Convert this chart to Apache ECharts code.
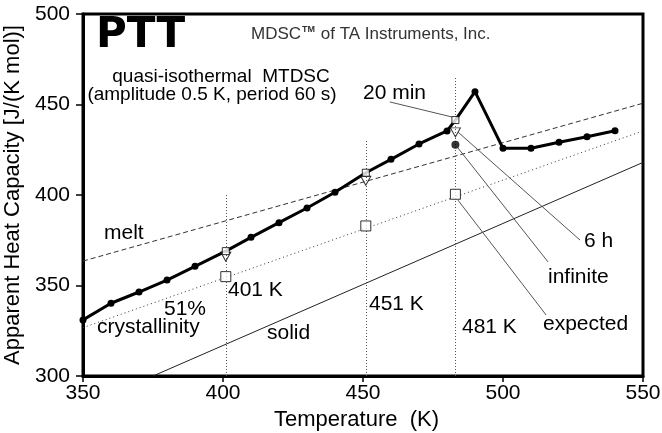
<!DOCTYPE html>
<html>
<head>
<meta charset="utf-8">
<script src="https://cdn.jsdelivr.net/npm/echarts@6/dist/echarts.min.js"></script>
<style>
html,body{margin:0;padding:0;background:#fff;}
#c{width:662px;height:433px;}
</style>
</head>
<body>
<div id="c"></div>
<script>
// ---- data ----
const tempMain = [350, 360, 370, 380, 390, 401, 410, 420, 430, 440, 451, 460, 470, 480, 483, 490, 500, 510, 520, 530, 540];
const cpMain   = [331.0, 340.2, 346.4, 353.0, 360.6, 369.0, 376.6, 384.7, 392.8, 401.5, 412.3, 419.7, 428.2, 435.4, 441.4, 457.1, 425.8, 425.8, 429.1, 432.2, 435.5];
const qiTemps    = [401, 451, 483];
const cp20min    = [369.0, 412.3, 441.4];
const cp6h       = [365.9, 407.9, 434.6];
const cpInfinite = [null, null, 427.8];
const cpExpected = [354.9, 382.9, 400.4];
const meltT  = [350, 550];
const meltCp = [363.5, 450.7];
const crystT  = [350, 550];
const crystCp = [326.7, 435.4];
const solidT  = [375, 550];
const solidCp = [300, 418];
const vlineTop = [401, 430, 465];   // top of dotted verticals at qiTemps
const xTicks = [350, 400, 450, 500, 550];
const yTicks = [300, 350, 400, 450, 500];

const pair = (xs, ys) => xs.map((x, i) => [x, ys[i]]);

const chart = echarts.init(document.getElementById('c'), null, {renderer: 'canvas'});
const F = '"Liberation Sans", Arial, sans-serif';

const leaders = [
  [[459.6, 451.4], [481.8, 443.1]],
  [[483.9, 434.8], [527.5, 375.1]],
  [[483.9, 426.0], [516.1, 363.0]],
  [[483.9, 397.2], [515.4, 333.7]]
];

function txt(text, x, y, size) {
  return {
    type: 'text', x: x, y: y, silent: true,
    style: { text: text, fontFamily: F, fontSize: size, fill: '#000', textAlign: 'left', textVerticalAlign: 'middle' }
  };
}

const option = {
  animation: false,
  backgroundColor: '#fff',
  grid: { left: 83, right: 19, top: 14, bottom: 57, show: true, borderColor: '#000', borderWidth: 3,
          containLabel: false, outerBoundsMode: 'none' },
  xAxis: {
    type: 'value', min: xTicks[0], max: xTicks[xTicks.length - 1], interval: 50,
    name: 'Temperature  (K)', nameLocation: 'middle', nameGap: 24,
    nameTextStyle: { fontFamily: F, fontSize: 22, color: '#000', padding: [0, 13, 0, 0] },
    axisLine: { lineStyle: { color: '#000', width: 3 } },
    axisTick: { length: 6, lineStyle: { color: '#000', width: 1.5 } },
    axisLabel: { fontFamily: F, fontSize: 21, color: '#000', margin: 7 },
    splitLine: { show: false }
  },
  yAxis: {
    type: 'value', min: yTicks[0], max: yTicks[yTicks.length - 1], interval: 50,
    name: 'Apparent Heat Capacity [J/(K mol)]', nameLocation: 'middle', nameGap: 53,
    nameTextStyle: { fontFamily: F, fontSize: 22, color: '#000' },
    axisLine: { lineStyle: { color: '#000', width: 3 } },
    axisTick: { length: 7, lineStyle: { color: '#000', width: 1.5 } },
    axisLabel: { fontFamily: F, fontSize: 21, color: '#000', margin: 13 },
    splitLine: { show: false }
  },
  series: [
    { type: 'line', name: 'melt', data: pair(meltT, meltCp), symbol: 'none', silent: true,
      lineStyle: { color: '#333', width: 1, type: [5, 3] },
      markLine: { silent: true, symbol: 'none', label: { show: false },
        lineStyle: { color: '#555', width: 1, type: 'solid' },
        data: leaders.map(l => [{ coord: l[0] }, { coord: l[1] }]) } },
    { type: 'line', name: 'crystallinity', data: pair(crystT, crystCp), symbol: 'none', silent: true,
      lineStyle: { color: '#333', width: 1, type: [1, 3] },
      markLine: { silent: true, symbol: 'none', label: { show: false },
        lineStyle: { color: '#555', width: 1, type: [1, 2] },
        data: qiTemps.map((t, i) => [{ coord: [t, yTicks[0]] }, { coord: [t, vlineTop[i]] }]) } },
    { type: 'line', name: 'solid', data: pair(solidT, solidCp), symbol: 'none', silent: true,
      lineStyle: { color: '#222', width: 1 } },
    { type: 'line', name: 'main', data: pair(tempMain, cpMain), symbol: 'circle',
      symbolSize: (v) => qiTemps.indexOf(v[0]) >= 0 ? 0 : 7,
      itemStyle: { color: '#000' }, lineStyle: { color: '#000', width: 3 }, z: 3 },
    { type: 'scatter', name: '6 h', data: pair(qiTemps, cp6h), symbol: 'triangle', symbolRotate: 180,
      symbolSize: [10, 9], itemStyle: { color: '#fff', borderColor: '#000', borderWidth: 1 }, z: 4 },
    { type: 'scatter', name: '20 min', data: pair(qiTemps, cp20min), symbol: 'rect',
      symbolSize: 7, itemStyle: { color: '#fff', borderColor: '#000', borderWidth: 1 }, z: 5 },
    { type: 'scatter', name: 'infinite', data: pair(qiTemps, cpInfinite).filter(p => p[1] != null), symbol: 'circle',
      symbolSize: 8, itemStyle: { color: '#000' }, z: 5 },
    { type: 'scatter', name: 'expected', data: pair(qiTemps, cpExpected), symbol: 'rect',
      symbolSize: 10, itemStyle: { color: '#fff', borderColor: '#000', borderWidth: 1 }, z: 5 }
  ],
  graphic: [
    { type: 'text', x: 96, y: 36, silent: true, style: { text: 'PTT', fontFamily: '"DejaVu Sans", sans-serif', fontWeight: 'bold', fontSize: 42, fill: '#000', textAlign: 'left', textVerticalAlign: 'middle' } },
    { type: 'text', x: 251, y: 34, silent: true, style: {
        text: '{a|MDSC}{t|TM}{a| of TA Instruments, Inc.}', textAlign: 'left', textVerticalAlign: 'middle',
        rich: {
          a: { fontFamily: F, fontSize: 17, fill: '#333', color: '#333' },
          t: { fontFamily: F, fontSize: 9, fontWeight: 'bold', fill: '#333', color: '#333', verticalAlign: 'top', padding: [0, 1, 8, 1] }
        } } },
    { type: 'text', x: 221, y: 77, silent: true, style: { text: 'quasi-isothermal  MTDSC', fontFamily: F, fontSize: 19, fill: '#000', textAlign: 'center', textVerticalAlign: 'middle' } },
    { type: 'text', x: 212, y: 95, silent: true, style: { text: '(amplitude 0.5 K, period 60 s)', fontFamily: F, fontSize: 19, fill: '#000', textAlign: 'center', textVerticalAlign: 'middle' } },
    txt('20 min', 363, 93, 21),
    txt('melt', 104, 233.5, 21),
    txt('51%', 164, 309, 21),
    txt('crystallinity', 97, 327.5, 21),
    txt('401 K', 228, 290.5, 21),
    txt('solid', 267, 333.5, 21),
    txt('451 K', 369, 304.5, 21),
    txt('481 K', 462, 327.5, 21),
    txt('6 h', 584, 241.5, 21),
    txt('infinite', 548, 277.5, 21),
    txt('expected', 543, 324, 21)
  ]
};
chart.setOption(option);
</script>
</body>
</html>
